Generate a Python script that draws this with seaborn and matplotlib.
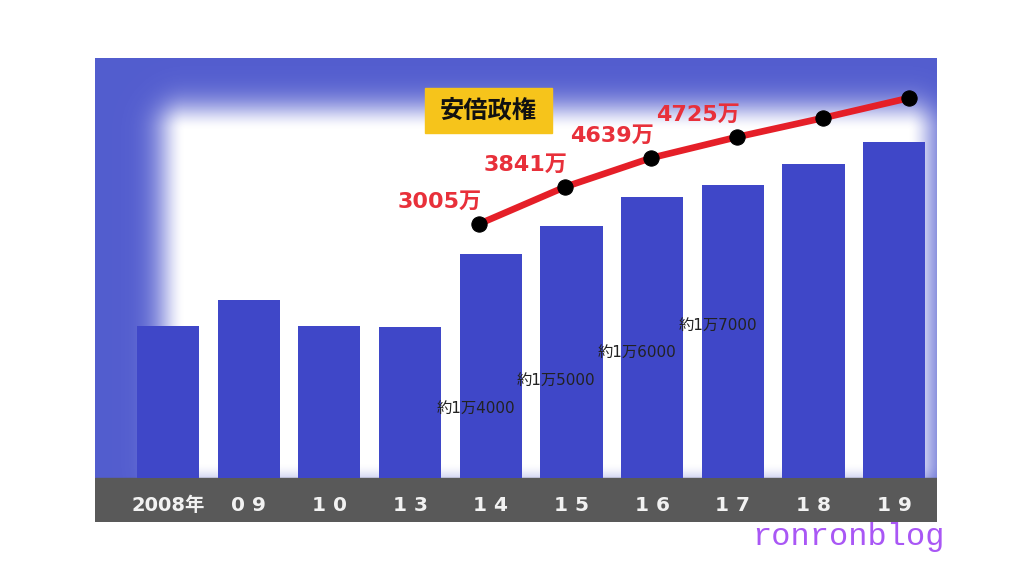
import numpy as np
import pandas as pd
import seaborn as sns
import matplotlib.pyplot as plt
from matplotlib.patches import Rectangle

# Data
years = ["2008年", "0 9", "1 0", "1 3", "1 4", "1 5", "1 6", "1 7", "1 8", "1 9"]
bar_values = [9500, 11100, 9500, 9450, 14000, 15750, 17550, 18300, 19600, 21000]

line_idx = [4, 5, 6, 7, 8, 9]
line_values = [15875, 18190, 20000, 21310, 22500, 23750]
line_labels = ["3005万", "3841万", "4639万", "4725万"]

visitor_idx = [4, 5, 6, 7]
visitor_values = [14000, 15000, 16000, 17000]
visitor_labels = ["約1万4000", "約1万5000", "約1万6000", "約1万7000"]

BAR_BLUE = "#3f47c8"
RED = "#e51f28"

sns.set_style("white")
plt.rcParams["font.family"] = ["Noto Sans CJK JP", "DejaVu Sans"]

fig = plt.figure(figsize=(10.24, 5.76), dpi=100)
fig.patch.set_facecolor("white")
rect = [95 / 1024, 54 / 576, 842 / 1024, 464 / 576]

# blurred blue frame behind the chart
bg = fig.add_axes(rect, zorder=0)
H, W = 464, 842
yy, xx = np.mgrid[0:H, 0:W]
dx = np.maximum(np.maximum(90 - xx, xx - 812), 0)
dy = np.maximum(np.maximum(72 - yy, yy - 404), 0)
d = np.hypot(dx, dy)
a = 1 - np.exp(-(d / 28) ** 2)
rgba = np.zeros((H, W, 4))
rgba[..., 0] = 0.29
rgba[..., 1] = 0.33
rgba[..., 2] = 0.80
rgba[..., 3] = a * 0.95
bg.imshow(rgba, aspect="auto", interpolation="bilinear")
bg.set_axis_off()

ax = fig.add_axes(rect, zorder=1)
ax.patch.set_visible(False)

df = pd.DataFrame({"year": years, "value": bar_values})
sns.barplot(data=df, x="year", y="value", color=BAR_BLUE, saturation=1,
            width=0.77, linewidth=0, ax=ax, zorder=2)

ymin, ymax = -2750, 26250
ax.set_ylim(ymin, ymax)
ax.set_xlim(-0.905, 9.53)
ax.axhspan(ymin, 0, color="#595959", zorder=1)

# year labels inside the gray band
ax.set_xticks(range(len(years)))
ax.set_xticklabels(years, color="#f2f2f2", fontsize=14.5, fontweight="bold",
                   family=["DejaVu Sans", "Noto Sans CJK JP"])
ax.get_xticklabels()[0].set_fontsize(14)
ax.tick_params(axis="x", length=0, pad=-19)
ax.xaxis.set_zorder(4)
ax.set_yticks([])
ax.set_xlabel("")
ax.set_ylabel("")
for s in ax.spines.values():
    s.set_visible(False)

# red growth line with black dots, on its own x scale
ax3 = ax.twiny()
ax3.set_xlim(-0.465, 9.326)
ax3.set_ylim(ymin, ymax)
ax3.set_axis_off()
sns.lineplot(x=line_idx, y=line_values, color=RED, lw=4.8, marker="o",
             markersize=11, markerfacecolor="black", markeredgecolor="black",
             ax=ax3, zorder=5)
for i, lab in enumerate(line_labels):
    ax3.annotate(lab, (line_idx[i], line_values[i]), xytext=(2, 9),
                 textcoords="offset points", ha="right", va="bottom",
                 color="#e8303a", fontsize=16, fontweight="bold",
                 family=["DejaVu Sans", "Noto Sans CJK JP"], zorder=6)

# small visitor labels on their own scale
ax2 = ax.twinx()
ax2.set_ylim(9830, 26600)
ax2.set_axis_off()
for i, v, lab in zip(visitor_idx, visitor_values, visitor_labels):
    ax2.annotate(lab, (i, v), xytext=(-11, -1),
                 textcoords="offset points", ha="center", va="center",
                 color="#222222", fontsize=11,
                 family=["DejaVu Sans", "Noto Sans CJK JP"], zorder=6)

# yellow title box
ax.add_patch(Rectangle((330 / 842, 389 / 464), 127 / 842, 45 / 464,
                       transform=ax.transAxes, color="#f6c41b", zorder=6))
ax.text(393 / 842, 411 / 464, "安倍政権", transform=ax.transAxes,
        ha="center", va="center", fontsize=17.5, fontweight="bold",
        color="#111111", zorder=7)

fig.text(752 / 1024, 1 - 537 / 576, "ronronblog", ha="left", va="center",
         family="Liberation Mono", fontsize=23, color="#a957f5")

fig.savefig("out.png", dpi=100, facecolor="white")
